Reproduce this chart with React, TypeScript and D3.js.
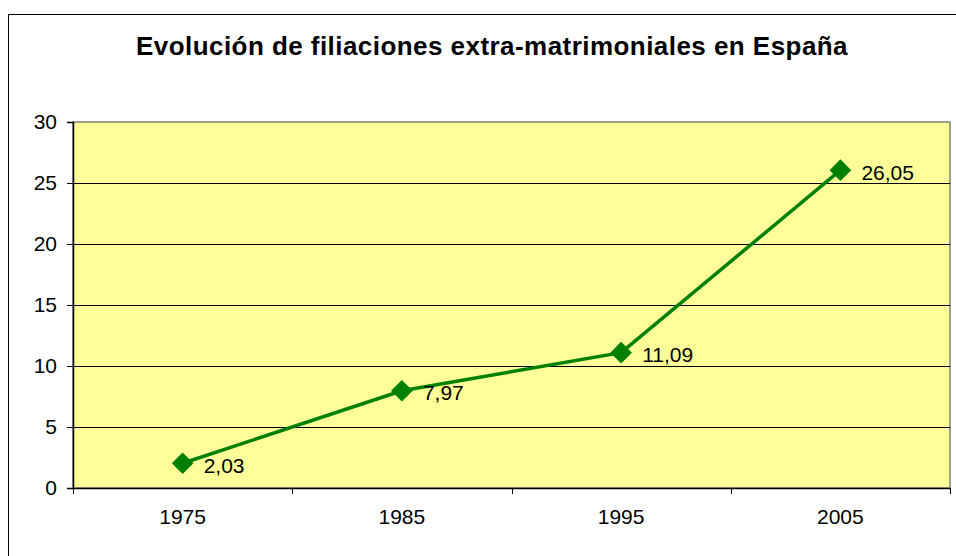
import React, { useRef, useEffect } from 'react';
import * as d3 from 'd3';

const years = ['1975', '1985', '1995', '2005'];
const values = [2.03, 7.97, 11.09, 26.05];
const yTicks = [0, 5, 10, 15, 20, 25, 30];
const title = 'Evolución de filiaciones extra-matrimoniales en España';

const W = 956;
const H = 556;

const App = () => {
  const svgRef = useRef<SVGSVGElement>(null);

  useEffect(() => {
    const svg = d3.select(svgRef.current);
    svg.selectAll('*').remove();
    const font = 'Arial, "Liberation Sans", sans-serif';

    // outer chart border (runs off the right and bottom edges)
    svg.append('rect')
      .attr('x', 8.5).attr('y', 14.5)
      .attr('width', 1000).attr('height', 600)
      .attr('fill', '#fff')
      .attr('stroke', '#000')
      .attr('stroke-width', 1);

    const left = 73, right = 950, top = 122, bottom = 488;

    const x = d3.scaleBand().domain(years).range([left, right]);
    const y = d3.scaleLinear().domain([0, 30]).range([bottom, top]);

    svg.append('text')
      .attr('x', 492).attr('y', 55)
      .attr('text-anchor', 'middle')
      .attr('font-family', font)
      .attr('font-weight', 'bold')
      .attr('font-size', 26)
      .attr('letter-spacing', 0.45)
      .text(title);

    svg.append('rect')
      .attr('x', left).attr('y', top)
      .attr('width', right - left).attr('height', bottom - top)
      .attr('fill', '#ffff99')
      .attr('stroke', '#808080')
      .attr('stroke-width', 1.5);

    svg.append('g')
      .selectAll('line')
      .data(yTicks.filter(d => d > 0 && d < 30))
      .join('line')
      .attr('x1', left).attr('x2', right)
      .attr('y1', d => Math.round(y(d)) + 0.5)
      .attr('y2', d => Math.round(y(d)) + 0.5)
      .attr('stroke', '#000');

    const yAxis = svg.append('g')
      .attr('transform', `translate(${left},0)`)
      .call(d3.axisLeft(y).tickValues(yTicks).tickSize(6).tickPadding(10).tickFormat(d3.format('d')));
    yAxis.select('.domain').attr('stroke', '#000').attr('stroke-width', 1.5);
    yAxis.selectAll('text').attr('font-family', font).attr('font-size', 21).attr('fill', '#000');

    const xAxis = svg.append('g')
      .attr('transform', `translate(0,${bottom})`)
      .call(d3.axisBottom(x).tickSize(0).tickPadding(21));
    xAxis.select('.domain').attr('stroke', '#000').attr('stroke-width', 1.5);
    xAxis.selectAll('text').attr('font-family', font).attr('font-size', 21).attr('fill', '#000');

    // category boundary ticks
    svg.append('g')
      .selectAll('line')
      .data(years.map(d => x(d) as number).concat([right]))
      .join('line')
      .attr('x1', d => Math.round(d) + 0.5).attr('x2', d => Math.round(d) + 0.5)
      .attr('y1', bottom).attr('y2', bottom + 6)
      .attr('stroke', '#000');

    const cx = (i: number) => (x(years[i]) as number) + x.bandwidth() / 2;

    const line = d3.line<number>()
      .x((d, i) => cx(i))
      .y(d => y(d));

    svg.append('path')
      .datum(values)
      .attr('d', line)
      .attr('fill', 'none')
      .attr('stroke', '#008000')
      .attr('stroke-width', 3.5);

    svg.append('g')
      .selectAll('path')
      .data(values)
      .join('path')
      .attr('d', d3.symbol(d3.symbolDiamond2, 300)())
      .attr('transform', (d, i) => `translate(${cx(i)},${y(d)})`)
      .attr('fill', '#008000');

    svg.append('g')
      .selectAll('text')
      .data(values)
      .join('text')
      .attr('x', (d, i) => cx(i) + 21)
      .attr('y', d => y(d) + 2)
      .attr('dy', '0.35em')
      .attr('font-family', font)
      .attr('font-size', 21)
      .text(d => d3.format('.2f')(d).replace('.', ','));
  }, []);

  return (
    <svg ref={svgRef} width={W} height={H}
      style={{ position: 'absolute', left: 0, top: 0, background: '#fff' }} />
  );
};

export default App;
